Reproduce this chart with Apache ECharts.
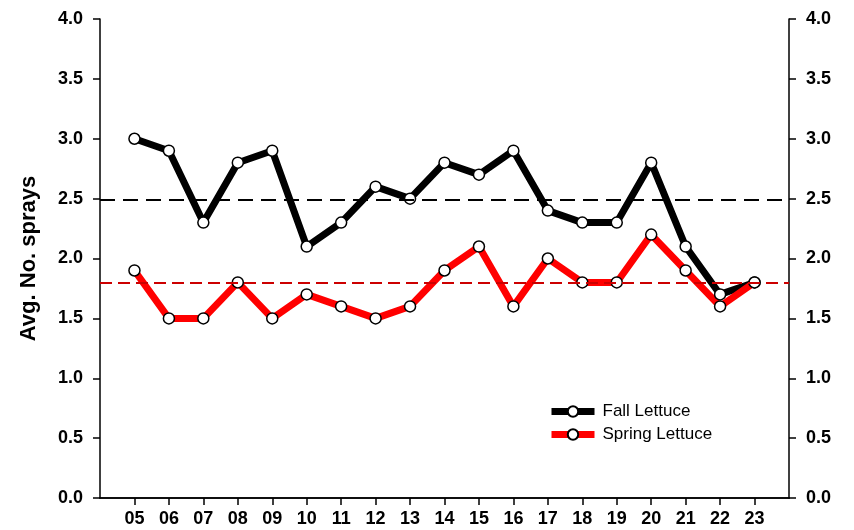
<!DOCTYPE html>
<html>
<head>
<meta charset="utf-8">
<script src="https://cdn.jsdelivr.net/npm/echarts@6/dist/echarts.min.js"></script>
<style>
    body { margin: 0; background: #fff; }
    #chart { width: 854px; height: 530px; }
</style>
</head>
<body>
<div id="chart"></div>
<script>
// 年份 (两位数)
const years = [5, 6, 7, 8, 9, 10, 11, 12, 13, 14, 15, 16, 17, 18, 19, 20, 21, 22, 23];
const fallLettuce = [3.0, 2.9, 2.3, 2.8, 2.9, 2.1, 2.3, 2.6, 2.5, 2.8, 2.7, 2.9, 2.4, 2.3, 2.3, 2.8, 2.1, 1.7, 1.8];
const springLettuce = [1.9, 1.5, 1.5, 1.8, 1.5, 1.7, 1.6, 1.5, 1.6, 1.9, 2.1, 1.6, 2.0, 1.8, 1.8, 2.2, 1.9, 1.6, 1.8];
// 平均线
const fallMean = 2.49;
const springMean = 1.8;
const yTicks = [0, 0.5, 1.0, 1.5, 2.0, 2.5, 3.0, 3.5, 4.0];

const labelFont = {
    fontFamily: 'Liberation Sans, Arial, sans-serif',
    fontWeight: 'bold',
    fontSize: 18,
    color: '#000'
};

function yAxisOpt(pos) {
    return {
        type: 'value',
        position: pos,
        min: yTicks[0],
        max: yTicks[yTicks.length - 1],
        interval: 0.5,
        splitLine: { show: false },
        axisLine: { show: true, lineStyle: { color: '#000', width: 1.5 } },
        axisTick: { show: true, length: 7, lineStyle: { color: '#000', width: 1.5 } },
        axisLabel: Object.assign({ margin: 17, formatter: v => v.toFixed(1) }, labelFont)
    };
}

function makeSeries(name, values, color, mean, meanColor, dash) {
    return {
        name: name,
        type: 'line',
        data: years.map((y, i) => [y, values[i]]),
        symbol: 'circle',
        symbolSize: 11,
        showAllSymbol: true,
        lineStyle: { color: color, width: 7 },
        itemStyle: { color: '#fff', borderColor: '#000', borderWidth: 1.5 },
        emphasis: { disabled: true },
        markLine: {
            silent: true,
            symbol: 'none',
            label: { show: false },
            lineStyle: { color: meanColor, type: dash, width: 2 },
            data: [{ yAxis: mean }]
        }
    };
}

const chart = echarts.init(document.getElementById('chart'));
chart.setOption({
    animation: false,
    grid: { left: 100, right: 65, top: 19, bottom: 32 },
    legend: {
        left: 548,
        top: 403,
        padding: 0,
        orient: 'vertical',
        itemWidth: 43,
        itemHeight: 13,
        itemGap: 6,
        lineStyle: { width: 7 },
        textStyle: {
            fontFamily: 'Liberation Sans, Arial, sans-serif',
            fontSize: 17,
            color: '#000',
            padding: [0, 0, 0, 3]
        },
        data: ['Fall Lettuce', 'Spring Lettuce']
    },
    xAxis: [
        {
            type: 'value',
            min: 4,
            max: 24,
            interval: 1,
            splitLine: { show: false },
            axisLine: { show: true, lineStyle: { color: '#000', width: 1.5 } },
            axisTick: { show: true, length: 7, customValues: years, lineStyle: { color: '#000', width: 1.5 } },
            axisLabel: Object.assign({
                margin: 12,
                customValues: years,
                formatter: v => String(v).padStart(2, '0')
            }, labelFont)
        },
        {
            type: 'value',
            position: 'top',
            min: 4,
            max: 24,
            splitLine: { show: false },
            axisLine: { show: true, lineStyle: { color: '#000', width: 1.5 } },
            axisTick: { show: false },
            axisLabel: { show: false }
        }
    ],
    yAxis: [
        Object.assign(yAxisOpt('left'), {
            name: 'Avg. No. sprays',
            nameLocation: 'middle',
            nameGap: 60,
            nameTextStyle: {
                fontFamily: 'Liberation Sans, Arial, sans-serif',
                fontWeight: 'bold',
                fontSize: 22,
                color: '#000'
            }
        }),
        yAxisOpt('right')
    ],
    series: [
        makeSeries('Fall Lettuce', fallLettuce, '#000', fallMean, '#000', [15, 8]),
        makeSeries('Spring Lettuce', springLettuce, '#ff0000', springMean, '#cc0000', [12, 6])
    ]
});
</script>
</body>
</html>
